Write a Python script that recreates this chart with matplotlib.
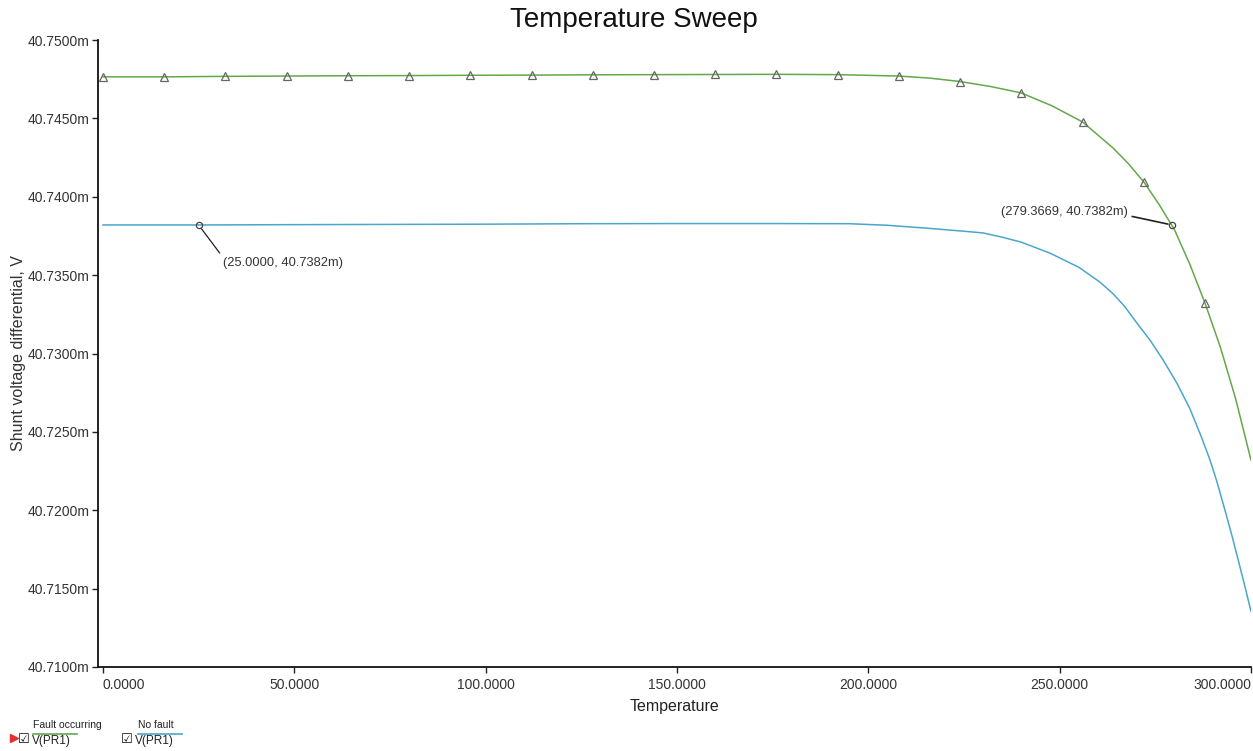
import matplotlib
matplotlib.use("Agg")
import matplotlib.pyplot as plt
from matplotlib.lines import Line2D
from matplotlib.ticker import FuncFormatter, MultipleLocator

plt.rcParams['font.family'] = ['Liberation Sans', 'DejaVu Sans']

# ---- data (values in mV) ----
fault_temp = [0, 16, 32, 48, 64, 80, 96, 112, 128, 144, 160, 176, 192, 208,
              216, 224, 232, 240, 248, 256, 264, 268, 272, 276, 280, 284, 288,
              292, 296, 300]
fault_mV = [40.74765, 40.74765, 40.74768, 40.74770, 40.74772, 40.74773,
            40.74775, 40.74776, 40.74778, 40.74779, 40.74780, 40.74781,
            40.74779, 40.74770, 40.74757, 40.74735, 40.74703, 40.74662,
            40.74580, 40.74477, 40.74310, 40.74210, 40.74094, 40.73950,
            40.73790, 40.73570, 40.73320, 40.73040, 40.72710, 40.72320]
fault_marker_temp = [0, 16, 32, 48, 64, 80, 96, 112, 128, 144, 160, 176, 192,
                     208, 224, 240, 256, 272, 288]

nofault_temp = [0, 25, 50, 100, 125, 150, 175, 195, 205, 215, 225, 230, 235,
                240, 247.5, 255, 260.5, 264, 267, 270, 273.6, 277, 280.6, 284,
                287, 289.3, 291, 293.2, 295, 297, 298.5, 300]
nofault_mV = [40.73820, 40.73820, 40.73822, 40.73825, 40.73828, 40.73829,
              40.73829, 40.73828, 40.73818, 40.73800, 40.73780, 40.73769,
              40.73742, 40.73710, 40.73640, 40.73550, 40.73456, 40.73380,
              40.73300, 40.73200, 40.73086, 40.72960, 40.72812, 40.72650,
              40.72470, 40.72320, 40.72190, 40.72000, 40.71840, 40.71650,
              40.71505, 40.71355]

cursor1 = (25.0, 40.7382)
cursor2 = (279.3669, 40.7382)

x_ticks = [0, 50, 100, 150, 200, 250, 300]
y_min, y_max, y_step = 40.71, 40.75, 0.005

green = '#63a84a'
blue = '#4aa6cc'

fig = plt.figure(figsize=(12.53, 7.51), dpi=100)
ax = fig.add_axes([98/1253, 1-667/751, (1251-98)/1253, (667-40)/751])

ax.plot(fault_temp, fault_mV, color=green, lw=1.1, zorder=3)
mk_idx = [fault_temp.index(t) for t in fault_marker_temp]
ax.plot([fault_temp[i] for i in mk_idx], [fault_mV[i] for i in mk_idx],
        ls='none', marker='^', ms=5.5, mfc='none', mec='#666666', mew=0.9, zorder=4)
ax.plot(nofault_temp, nofault_mV, color=blue, lw=1.1, zorder=3)

# cursors
for c in (cursor1, cursor2):
    ax.plot([c[0]], [c[1]], ls='none', marker='o', ms=4.5, mfc='none',
            mec='#444444', mew=0.9, zorder=5)

ax.annotate(f"({cursor1[0]:.4f}, {cursor1[1]:.4f}m)", xy=cursor1,
            xytext=(24, -38), textcoords='offset pixels', ha='left', va='center',
            fontsize=9.3, color='#333333',
            arrowprops=dict(arrowstyle='-', color='#222222', lw=0.9,
                            shrinkA=1, shrinkB=3, relpos=(0, 1)))
ax.annotate(f"({cursor2[0]:.4f}, {cursor2[1]:.4f}m)", xy=cursor2,
            xytext=(-44, 13), textcoords='offset pixels', ha='right', va='center',
            fontsize=9.3, color='#333333',
            arrowprops=dict(arrowstyle='-', color='#222222', lw=1.2,
                            shrinkA=1, shrinkB=3, relpos=(1, 0.2)))

ax.set_xlim(-1.3, 300)
ax.set_ylim(y_min, y_max)
ax.set_xticks(x_ticks)
ax.xaxis.set_major_formatter(FuncFormatter(lambda v, p: f"{v:.4f}"))
ax.yaxis.set_major_locator(MultipleLocator(y_step))
ax.yaxis.set_major_formatter(FuncFormatter(lambda v, p: f"{v:.4f}m"))

for s in ('top', 'right'):
    ax.spines[s].set_visible(False)
for s in ('left', 'bottom'):
    ax.spines[s].set_color('#111111')
    ax.spines[s].set_linewidth(1.3)
ax.tick_params(axis='both', direction='out', length=4, width=1, color='#222222',
               labelsize=10, labelcolor='#333333', pad=4)
ax.tick_params(axis='y', pad=2)

labels = ax.get_xticklabels()
labels[0].set_ha('left')
labels[-1].set_ha('right')

ax.set_xlabel('Temperature', fontsize=11.5, color='#222222', labelpad=5)
ax.set_ylabel('Shunt voltage differential, V', fontsize=11.5, color='#333333', labelpad=1)
fig.text(634/1253, 0.973, 'Temperature Sweep', ha='center', va='center',
         fontsize=20, color='#111111')

# ---- legend (bottom-left) ----
def fx(px):
    return px / 1253
def fy(py):
    return 1 - py / 751

fig.add_artist(Line2D([fx(14)], [fy(738)], marker='>', ms=6, color='#e03030',
                      ls='none', transform=fig.transFigure))
legend_items = [("Fault occurring", green, 33, 77, 18), ("No fault", blue, 138, 182, 121)]
for name, col, x0, x1, cbx in legend_items:
    fig.text(fx(x0), fy(725), name, fontsize=7.5, color='#222222', ha='left', va='center')
    fig.add_artist(Line2D([fx(x0), fx(x1)], [fy(734), fy(734)], color=col, lw=1.2,
                          transform=fig.transFigure))
    fig.text(fx(cbx), fy(739), "\u2611", fontsize=9.5, color='#111111', ha='left',
             va='center', family=['DejaVu Sans'])
    fig.text(fx(cbx + 14), fy(741), "V(PR1)", fontsize=8.5, color='#222222',
             ha='left', va='center')

fig.savefig('out.png', dpi=100, facecolor='white')
